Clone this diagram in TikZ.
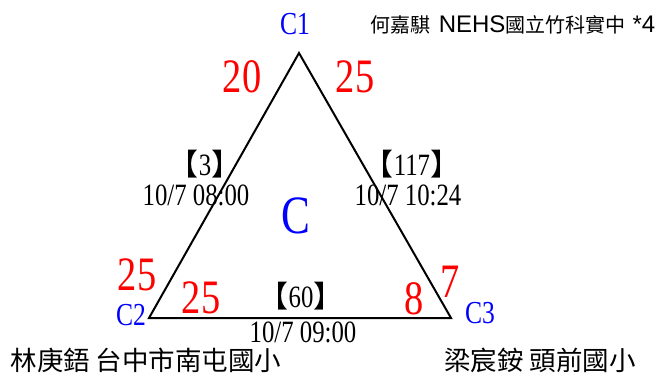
\documentclass[tikz,border=0pt]{standalone}
\usepackage{fontspec}
\setmainfont{Liberation Serif}[FakeStretch=0.8]
\newfontfamily\cjk{Noto Sans CJK TC}
\newfontfamily\arialish{Liberation Sans}
\definecolor{pred}{RGB}{255,0,0}
\definecolor{pblue}{RGB}{0,0,255}
\newcommand{\lbr}{{\cjk\fontsize{30}{30}\selectfont 【}}
\newcommand{\rbr}{{\cjk\fontsize{30}{30}\selectfont 】}}
\begin{document}
\begin{tikzpicture}[x=1pt,y=-1pt,
  every node/.style={inner sep=0pt,outer sep=0pt,anchor=base},
  num/.style={text=pred,font=\fontsize{48}{48}\selectfont},
  vname/.style={text=pblue,font=\fontsize{32}{32}\selectfont},
  info/.style={text=black,font=\fontsize{31}{31}\selectfont},
  cjklabel/.style={text=black,font=\cjk\fontsize{26.5}{26.5}\selectfont}]
\useasboundingbox (0,0) rectangle (658,377);
\coordinate (A) at (299,53);
\coordinate (B) at (149,318);
\coordinate (Cc) at (451,318);
\draw[line width=2pt,line join=miter] (A) -- (B) -- (Cc) -- cycle;
% vertex names
\node[vname] (c1) at (295,35) {C1};
\node[vname] (c2) at (131,325) {C2};
\node[vname] (c3) at (480,323) {C3};
\node[text=pblue,font=\fontsize{54}{54}\selectfont] (cc) at (296,233) {C};
% red numbers
\node[num] (n1) at (242,93) {20};
\node[num] (n2) at (355,93) {25};
\node[num] (n3) at (137,290) {25};
\node[num] (n4) at (201,313) {25};
\node[num] (n5) at (414,314) {8};
\node[num] (n6) at (450,297) {7};
% edge info
\node[info] (b1) at (205,175) {\lbr 3\rbr};
\node[info] (d1) at (196,205) {10/7 08:00};
\node[info] (b2) at (412,175) {\lbr 117\rbr};
\node[info] (d2) at (408,205) {10/7 10:24};
\node[info] (b3) at (301,307) {\lbr 60\rbr};
\node[info] (d3) at (303,342) {10/7 09:00};
% names
\node[cjklabel] (p1) at (146,370) {林庚鋙 台中市南屯國小};
\node[cjklabel] (p2) at (540,370) {梁宸銨 頭前國小};
\node[text=black,font=\cjk\fontsize{20}{20}\selectfont] (p3) at (513,33)
  {何嘉騏\hspace{8pt}{\arialish\fontsize{24}{24}\selectfont NEHS}國立竹科實中\hspace{7pt}{\arialish\fontsize{24}{24}\selectfont *4}};
\end{tikzpicture}
\end{document}
